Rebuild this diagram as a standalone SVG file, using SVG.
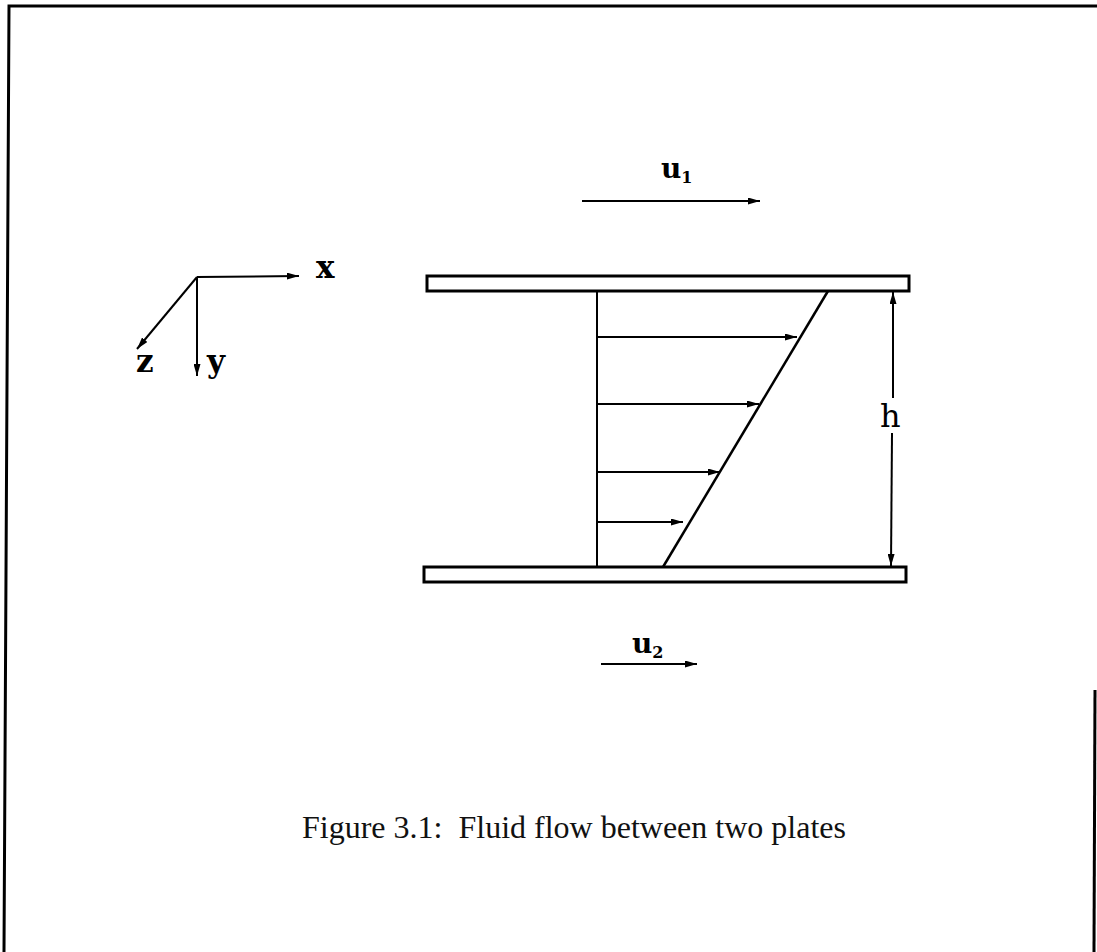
<svg xmlns="http://www.w3.org/2000/svg" width="1097" height="952" viewBox="0 0 1097 952">
<style>
.ln{stroke:#000;stroke-width:2;fill:none}
.plate{stroke:#000;stroke-width:3;fill:#fff}
.lab{font-family:"DejaVu Serif","Liberation Serif",serif;font-weight:bold;fill:#000}
.cap{font-family:"Liberation Serif",serif;font-size:32px;fill:#111;white-space:pre}
</style>
<defs>
<marker id="ah" viewBox="0 0 12 7" refX="12" refY="3.5" markerWidth="12" markerHeight="7" markerUnits="userSpaceOnUse" orient="auto">
<path d="M0,0 L12,3.5 L0,7 Z" fill="#000"/>
</marker>
<marker id="ahs" viewBox="0 0 12 7" refX="12" refY="3.5" markerWidth="12" markerHeight="7" markerUnits="userSpaceOnUse" orient="auto-start-reverse">
<path d="M0,0 L12,3.5 L0,7 Z" fill="#000"/>
</marker>
</defs>
<rect width="1097" height="952" fill="#fff"/>
<g id="frame" class="ln">
<path d="M1097,6 L9,6 L4,952" style="stroke-width:3"/>
<path d="M1095,690 L1094,952" style="stroke-width:3"/>
</g>
<g id="axes">
<line class="ln" x1="197" y1="277" x2="299" y2="276" marker-end="url(#ah)"/>
<line class="ln" x1="197" y1="277" x2="137" y2="349" marker-end="url(#ah)"/>
<line class="ln" x1="197" y1="277" x2="197" y2="376" marker-end="url(#ah)"/>
<text class="lab" x="316" y="278" font-size="31">x</text>
<text class="lab" x="136" y="372" font-size="31">z</text>
<text class="lab" x="207" y="372" font-size="31">y</text>
</g>
<g id="top-plate"><rect class="plate" x="427" y="276" width="482" height="15"/></g>
<g id="bottom-plate"><rect class="plate" x="424" y="567" width="482" height="15"/></g>
<g id="profile">
<line class="ln" x1="597" y1="291" x2="597" y2="567"/>
<line class="ln" x1="828" y1="291" x2="663" y2="567" style="stroke-width:2.5"/>
</g>
<g id="connectors">
<line class="ln" x1="582" y1="201" x2="760" y2="201" marker-end="url(#ah)"/>
<line class="ln" x1="601" y1="664" x2="697" y2="664" marker-end="url(#ah)"/>
<line class="ln" x1="597" y1="337" x2="797" y2="337" marker-end="url(#ah)"/>
<line class="ln" x1="597" y1="404" x2="759" y2="404" marker-end="url(#ah)"/>
<line class="ln" x1="597" y1="472" x2="720" y2="472" marker-end="url(#ah)"/>
<line class="ln" x1="597" y1="522" x2="683" y2="522" marker-end="url(#ah)"/>
<line class="ln" x1="893" y1="292" x2="893" y2="398" marker-start="url(#ahs)"/>
<line class="ln" x1="892" y1="433" x2="891" y2="566" marker-end="url(#ah)"/>
</g>
<g id="labels">
<text class="lab" x="661" y="178" font-size="28">u<tspan font-size="16" dy="5">1</tspan></text>
<text class="lab" x="632" y="653" font-size="28">u<tspan font-size="16" dy="5">2</tspan></text>
<text x="880" y="427" font-family="DejaVu Serif, serif" font-size="32" fill="#000">h</text>
</g>
<text class="cap" x="302" y="838" xml:space="preserve">Figure 3.1:  Fluid flow between two plates</text>
</svg>
